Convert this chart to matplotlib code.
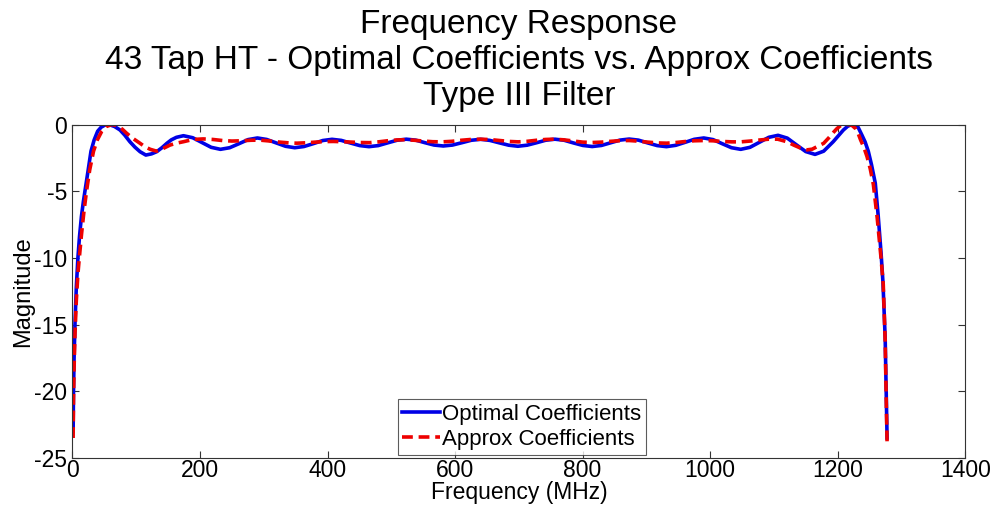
import matplotlib
matplotlib.use("Agg")
import matplotlib.pyplot as plt

plt.rcParams['font.family'] = ['Liberation Sans', 'DejaVu Sans']
plt.rcParams['axes.unicode_minus'] = False

# Optimal coefficients response (MHz, dB)
opt_freq = [1.0, 1.6, 2.5, 4, 6, 8.5, 11, 14, 17, 20, 24, 29, 34, 39.5, 45, 51, 57,
            66, 74.5, 82, 90, 98, 106, 115, 124, 132, 140, 148, 155, 163, 174,
            188.5, 203, 217.5, 232, 246.5, 261, 275.5, 290, 304.5, 319.5, 334, 348.5,
            363, 378, 392.5, 407, 421.5, 436, 450.5, 465, 479.5, 494, 509, 523.5,
            538, 552.5, 567, 581.5, 596, 611, 625.5, 640,
            654.5, 669, 684, 698.5, 713, 727.5, 742, 756.5, 771, 785.5, 800.5, 815,
            829.5, 844, 858.5, 873, 887.5, 902, 917, 931.5, 946, 960.5, 975, 990,
            1004.5, 1019, 1033.5, 1048, 1062.5, 1077, 1092, 1106.5, 1121, 1135.5,
            1150, 1164.5, 1178, 1193, 1201, 1209, 1216, 1223, 1232, 1238, 1243,
            1248, 1253, 1259, 1263.5, 1268, 1271, 1274.5, 1276.5, 1277.5]
opt_mag = [-23.0, -20.0, -17.5, -14.8, -12.2, -10.0, -8.4, -6.9, -5.8, -4.85, -3.6, -2.0,
           -1.15, -0.5, -0.2, -0.04, 0.0,
           -0.15, -0.41, -0.8, -1.29, -1.7, -2.04, -2.29, -2.2, -2.04, -1.75, -1.41,
           -1.15, -0.96, -0.84,
           -0.99, -1.35, -1.71, -1.86, -1.74, -1.44, -1.13, -1.01, -1.12, -1.38, -1.63,
           -1.74, -1.65, -1.43, -1.20, -1.11, -1.19, -1.39, -1.58, -1.66, -1.58, -1.38,
           -1.18, -1.10, -1.17, -1.36, -1.54, -1.61, -1.54, -1.36, -1.18, -1.11,
           -1.19, -1.37, -1.55, -1.63, -1.55, -1.37, -1.18, -1.10, -1.18, -1.38, -1.57,
           -1.65, -1.57, -1.37, -1.17, -1.09, -1.17, -1.38, -1.58, -1.66, -1.56, -1.34,
           -1.11, -1.01, -1.13, -1.44, -1.74, -1.86, -1.71, -1.34, -0.96, -0.81, -1.02,
           -1.53, -2.03, -2.24, -2.0, -1.29, -0.85, -0.41, -0.12, 0.0, -0.2, -0.79,
           -1.3, -2.0, -3.0, -4.4, -6.8, -9.6, -11.8, -16.0, -21.0, -23.5]

# Approximated coefficients response (MHz, dB)
apx_freq = [1.0, 1.6, 2.5, 4, 6, 8.5, 10.7, 14, 18, 22, 27, 33, 39, 46, 53, 62, 70, 78,
            85, 95, 106, 114, 122, 132, 142, 153, 163, 174, 189, 205, 220, 235, 250,
            265, 280, 294, 310, 325, 340, 352, 366, 381, 395, 409, 424, 438, 452, 466,
            480, 494, 508, 522, 536, 550, 565, 580, 595, 610, 625, 640, 655, 670, 685,
            699, 713, 728, 742, 756, 771, 786, 800, 815, 830, 844, 859, 873, 888, 902,
            917, 932, 946, 960, 975, 990, 1004, 1019, 1034, 1048, 1063, 1078, 1092,
            1106, 1121, 1131, 1141, 1152, 1160, 1168, 1178, 1186, 1193, 1199, 1204,
            1210, 1216, 1222, 1228, 1232, 1236, 1241, 1246, 1251, 1256, 1262, 1268,
            1271.5, 1274.5, 1276.5, 1277.5]
apx_mag = [-23.5, -20.5, -18.2, -15.6, -13.2, -11.2, -10.0, -8.3, -6.5, -5.0, -3.4, -2.0,
           -1.15, -0.5, -0.15, 0.0, -0.1, -0.35, -0.66, -1.05, -1.41, -1.68, -1.86, -2.0,
           -1.8, -1.54, -1.4, -1.29, -1.12, -1.08, -1.12, -1.2, -1.24, -1.22, -1.18,
           -1.17, -1.24, -1.32, -1.38, -1.4, -1.37, -1.32, -1.28, -1.27, -1.29, -1.32,
           -1.35, -1.36, -1.3, -1.22, -1.16, -1.14, -1.18, -1.24, -1.29, -1.3, -1.26,
           -1.18, -1.12, -1.1, -1.13, -1.2, -1.27, -1.3, -1.26, -1.18, -1.12, -1.1,
           -1.15, -1.24, -1.32, -1.35, -1.32, -1.26, -1.21, -1.2, -1.25, -1.32, -1.38,
           -1.4, -1.35, -1.28, -1.22, -1.2, -1.22, -1.27, -1.3, -1.3, -1.24, -1.16,
           -1.1, -1.1, -1.3, -1.54, -1.75, -1.9, -1.85, -1.65, -1.41, -1.0, -0.61, -0.3,
           -0.1, -0.02, 0.0, -0.05, -0.3, -0.65, -1.16, -1.7, -2.4, -3.3, -4.5, -7.0,
           -10.0, -12.0, -16.2, -21.5, -23.8]

x_ticks = [0, 200, 400, 600, 800, 1000, 1200, 1400]
y_ticks = [-25, -20, -15, -10, -5, 0]

title_lines = ["Frequency Response",
               "43 Tap HT - Optimal Coefficients vs. Approx Coefficients",
               "Type III Filter"]

fig = plt.figure(figsize=(9.93, 5.16), dpi=100)
ax = fig.add_axes([0.073, 0.1124, 0.899, 0.6463])

ax.plot(opt_freq, opt_mag, color='#0000e6', lw=2.6, label='Optimal Coefficients')
ax.plot(apx_freq, apx_mag, color='#ee0000', lw=2.6, ls=(0, (3, 1.6)),
        label='Approx Coefficients')

ax.set_xlim(0, 1400)
ax.set_ylim(-25, 0)
ax.set_xticks(x_ticks)
ax.set_yticks(y_ticks)
ax.tick_params(direction='in', top=True, right=True, labelsize=16.5, length=5,
               width=0.8, colors='#333333', labelcolor='black', pad=1)
ax.tick_params(axis='y', pad=4)
for s in ax.spines.values():
    s.set_color('#333333')
    s.set_linewidth(0.8)

ax.set_xlabel('Frequency (MHz)', fontsize=16.5, labelpad=-1)
ax.set_ylabel('Magnitude', fontsize=17, labelpad=0)
ax.set_title("\n".join(title_lines), fontsize=24, linespacing=1.22, pad=14)

leg = ax.legend(loc='lower center', fontsize=16, frameon=True, fancybox=False,
                handlelength=1.7, handletextpad=0.1, borderpad=0.2,
                labelspacing=0.2, borderaxespad=0.0, bbox_to_anchor=(0.503, 0.01))
leg.get_frame().set_edgecolor('#333333')
leg.get_frame().set_linewidth(0.8)

fig.savefig('out.png', dpi=100)
